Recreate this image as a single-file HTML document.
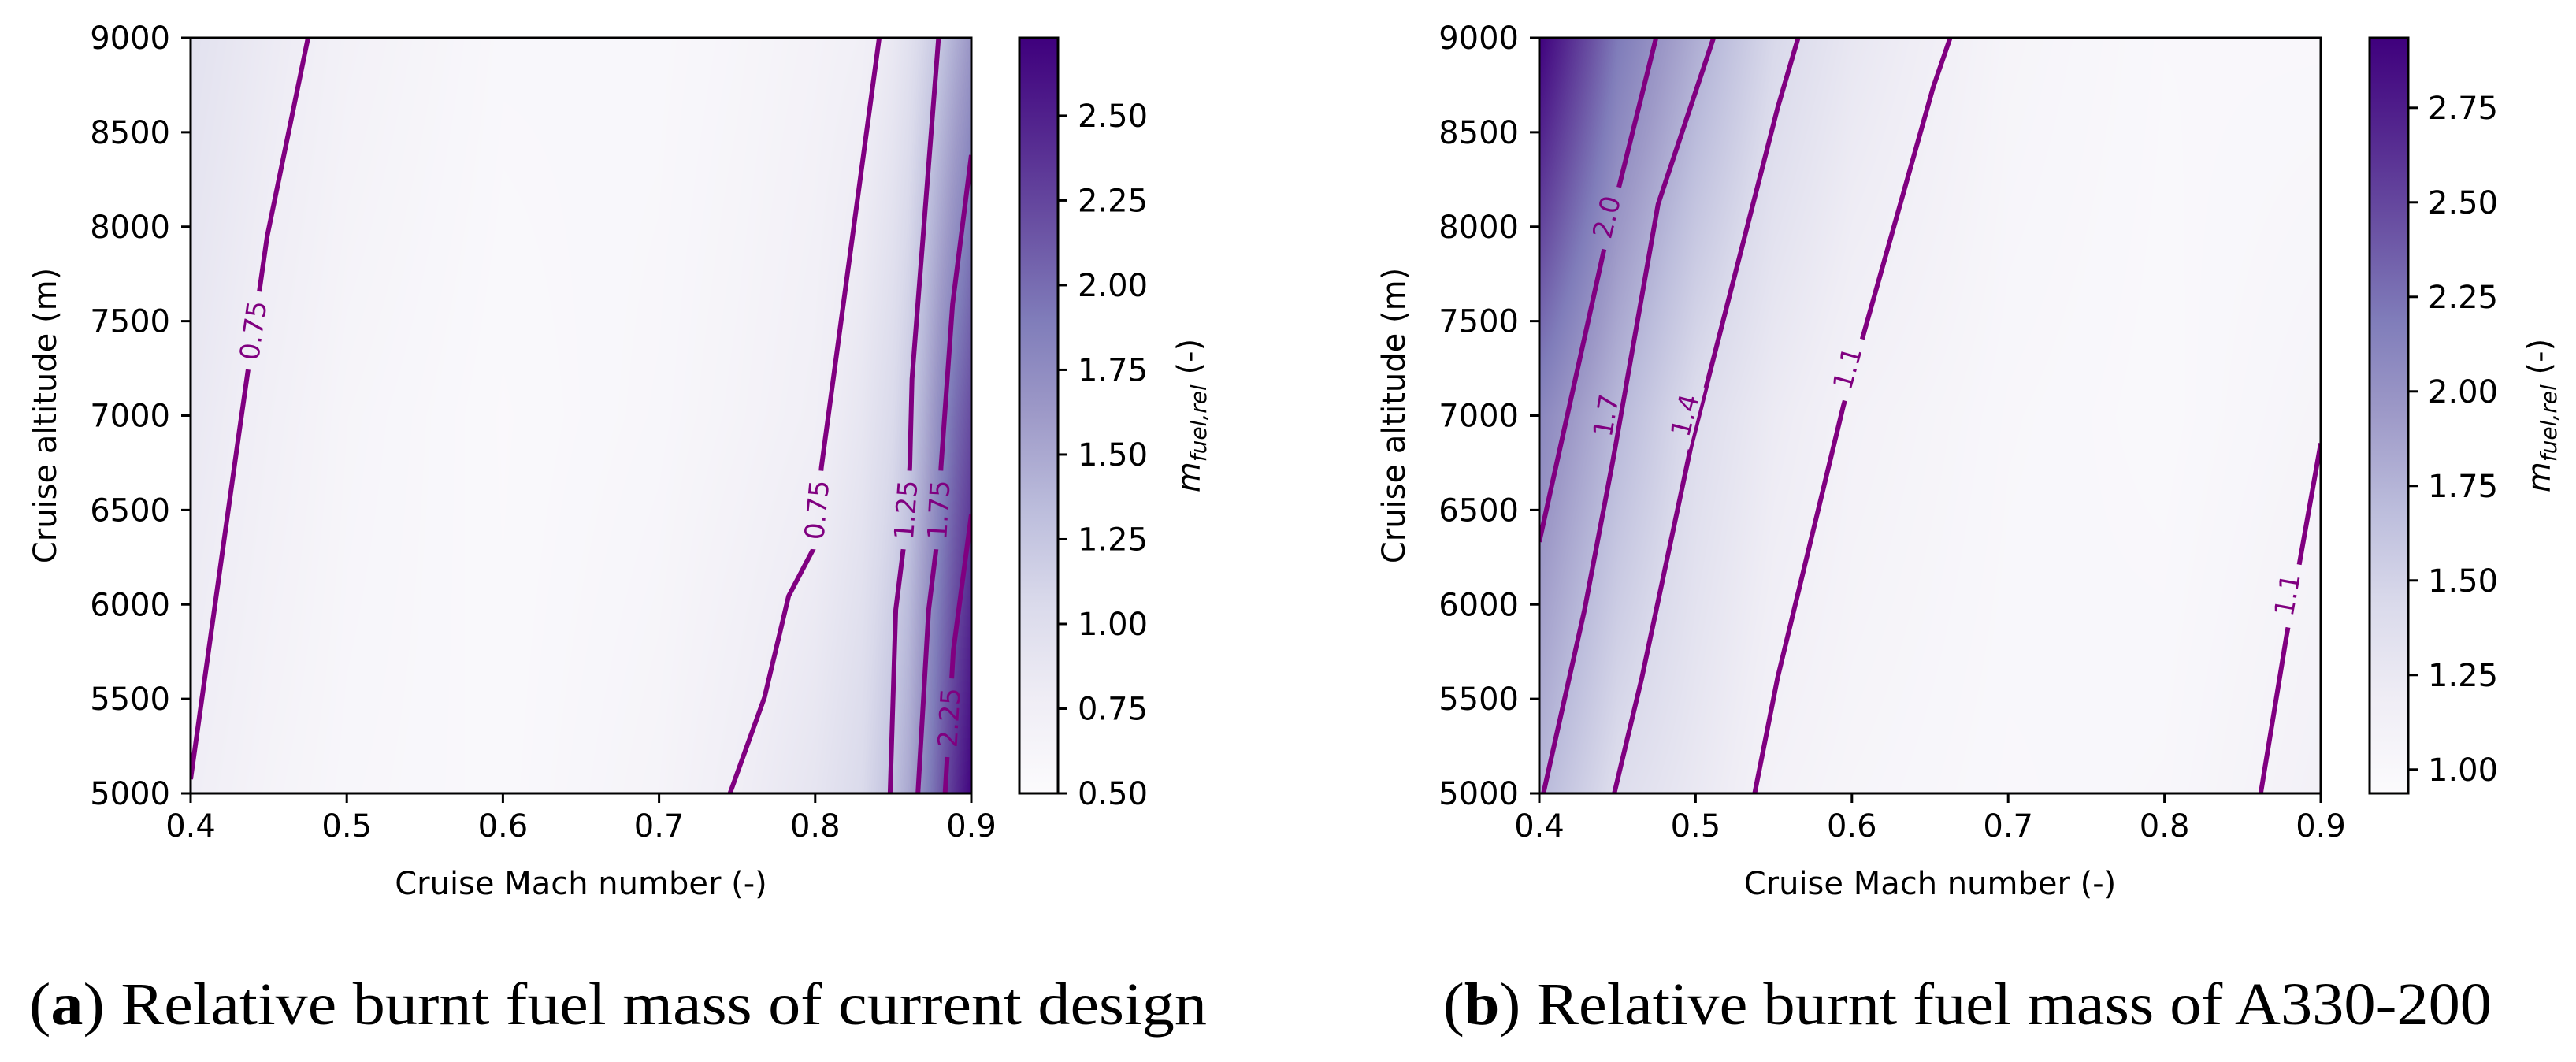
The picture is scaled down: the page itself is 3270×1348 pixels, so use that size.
<!DOCTYPE html>
<html><head><meta charset="utf-8">
<style>
html,body{margin:0;padding:0;background:#fff;}
#root{position:relative;width:3270px;height:1348px;overflow:hidden;background:#fff;}
canvas{position:absolute;}
svg{position:absolute;left:0;top:0;}
</style></head>
<body>
<div id="root">
<canvas id="hmA" width="991" height="959" style="left:242px;top:48px"></canvas>
<canvas id="hmB" width="992" height="959" style="left:1954px;top:48px"></canvas>
<svg id="svg" width="3270" height="1348" xmlns="http://www.w3.org/2000/svg"></svg>
</div>
<script>
// ---------- DATA: panel (a) current design ----------
const machA = [0.4,0.45,0.5,0.6,0.7,0.75,0.8,0.83,0.85,0.86,0.87,0.88,0.89,0.9];
const altA = [5000,7000,9000];
const fieldA_5000 = [0.76,0.66,0.6,0.56,0.65,0.76,0.9,1.05,1.3,1.5,1.8,2.1,2.4,2.7];
const fieldA_7000 = [0.85,0.73,0.63,0.55,0.6,0.66,0.74,0.88,1.05,1.2,1.45,1.75,2.0,2.2];
const fieldA_9000 = [0.95,0.82,0.7,0.58,0.58,0.62,0.68,0.73,0.85,0.95,1.1,1.25,1.45,1.65];
const contourA_075a = [[0.4,5075],[0.431,6907],[0.449,7948],[0.4752,9000]];
const contourA_075b = [[0.7454,5000],[0.7675,5507],[0.783,6045],[0.799,6296],[0.804,6727],[0.841,9000]];
const contourA_125 = [[0.848,5000],[0.8516,5973],[0.857,6332],[0.8606,6727],[0.862,7194],[0.879,9000]];
const contourA_175 = [[0.8658,5000],[0.8727,5973],[0.878,6332],[0.8806,6727],[0.888,7589],[0.9,8379]];
const contourA_225 = [[0.8832,5000],[0.8885,5757],[0.9,6476]];
const labelsA = [["0.75",0.4405,7450],["0.75",0.8015,6500],["1.25",0.8585,6500],["1.75",0.8795,6500],["2.25",0.8862,5400]];
const cbTicksA = [0.5,0.75,1.0,1.25,1.5,1.75,2.0,2.25,2.5];
const cbRangeA = [0.5,2.73];
// ---------- DATA: panel (b) A330-200 ----------
const machB = [0.4,0.45,0.5,0.55,0.6,0.7,0.8,0.9];
const altB = [5000,7000,9000];
const fieldB_5000 = [1.72,1.39,1.25,1.1,1.05,1.0,1.02,1.12];
const fieldB_7000 = [2.1,1.72,1.4,1.22,1.11,1.02,0.99,1.06];
const fieldB_9000 = [2.93,2.2,1.8,1.45,1.27,1.06,1.0,1.0];
const contourB_20 = [[0.4,6332],[0.4447,8002],[0.4747,9000]];
const contourB_17 = [[0.4026,5000],[0.429,5973],[0.447,6757],[0.476,8119],[0.5115,9000]];
const contourB_14 = [[0.448,5000],[0.4657,5614],[0.497,6835],[0.5525,8630],[0.5656,9000]];
const contourB_11a = [[0.5378,5000],[0.5525,5614],[0.5945,7050],[0.652,8738],[0.6629,9000]];
const contourB_11b = [[0.8616,5000],[0.878,5830],[0.9,6853]];
const labelsB = [["2.0",0.4435,8050],["1.7",0.443,7000],["1.4",0.4935,7000],["1.1",0.5975,7250],["1.1",0.879,6050]];
const cbTicksB = [1.0,1.25,1.5,1.75,2.0,2.25,2.5,2.75];
const cbRangeB = [0.937,2.935];
const xTicks = [0.4,0.5,0.6,0.7,0.8,0.9];
const yTicks = [5000,5500,6000,6500,7000,7500,8000,8500,9000];

// ---------- rendering ----------
const NS='http://www.w3.org/2000/svg';
const svg=document.getElementById('svg');
const PURPLES=[[252,251,253],[239,237,245],[218,218,235],[188,189,220],[158,154,200],[128,125,186],[106,81,163],[84,39,143],[63,0,125]];
function cmap(t){t=Math.max(0,Math.min(1,t));const s=t*8;const i=Math.min(7,Math.floor(s));const f=s-i;const a=PURPLES[i],b=PURPLES[i+1];return [a[0]+(b[0]-a[0])*f,a[1]+(b[1]-a[1])*f,a[2]+(b[2]-a[2])*f];}
function mk(tag,attrs,parent){const e=document.createElementNS(NS,tag);for(const k in attrs)e.setAttribute(k,attrs[k]);(parent||svg).appendChild(e);return e;}
function interp1(arr,v){let i=0;while(i<arr.length-2&&v>arr[i+1])i++;const f=(v-arr[i])/(arr[i+1]-arr[i]);return [i,Math.max(0,Math.min(1,f))];}

function drawPanel(o){
  const X=m=>o.x0+(m-0.4)/0.5*o.w;
  const Y=a=>o.y0+o.h-(a-5000)/4000*o.h;
  const cv=document.getElementById(o.canvas);const ctx=cv.getContext('2d');
  const img=ctx.createImageData(cv.width,cv.height);
  const rows=o.rows;
  for(let py=0;py<cv.height;py++){
    const alt=9000-(py+0.5)/cv.height*4000;
    const [ai,af]=interp1(o.alt,alt);
    for(let px=0;px<cv.width;px++){
      const m=0.4+(px+0.5)/cv.width*0.5;
      const [mi,mf]=interp1(o.mach,m);
      const v0=rows[ai][mi]*(1-mf)+rows[ai][mi+1]*mf;
      const v1=rows[ai+1][mi]*(1-mf)+rows[ai+1][mi+1]*mf;
      const v=v0*(1-af)+v1*af;
      const c=cmap((v-o.cb[0])/(o.cb[1]-o.cb[0]));
      const k=(py*cv.width+px)*4;img.data[k]=c[0];img.data[k+1]=c[1];img.data[k+2]=c[2];img.data[k+3]=255;
    }
  }
  ctx.putImageData(img,0,0);
  const g=mk('g',{});
  
  
  const mid=o.name+'-mask';
  const mask=mk('mask',{id:mid,maskUnits:'userSpaceOnUse',x:0,y:0,width:3270,height:1348},g);
  mk('rect',{x:0,y:0,width:3270,height:1348,fill:'#fff'},mask);
  const clipId=o.name+'-clip';
  const cp=mk('clipPath',{id:clipId},g);mk('rect',{x:o.x0,y:o.y0,width:o.w,height:o.h},cp);
  const lg=mk('g',{mask:'url(#'+mid+')','clip-path':'url(#'+clipId+')'},g);
  o.contours.forEach((c,ci)=>{
    const p=mk('polyline',{points:c.map(q=>X(q[0]).toFixed(1)+','+Y(q[1]).toFixed(1)).join(' '),fill:'none',stroke:'#800080','stroke-width':6,'stroke-linejoin':'round'},lg);
    
    
  });
  o.labels.forEach(l=>{
    const lx=X(l[1]),ly=Y(l[2]);
    let best=null,bd=1e9;
    o.contours.forEach(c=>{for(let i=0;i<c.length-1;i++){const ax=X(c[i][0]),ay=Y(c[i][1]),bx=X(c[i+1][0]),by=Y(c[i+1][1]);const t=Math.max(0,Math.min(1,((lx-ax)*(bx-ax)+(ly-ay)*(by-ay))/((bx-ax)**2+(by-ay)**2)));const dd=Math.hypot(ax+t*(bx-ax)-lx,ay+t*(by-ay)-ly);if(dd<bd){bd=dd;best=[bx-ax,by-ay];}}});
    let ang=Math.atan2(best[1],best[0])*180/Math.PI;if(ang>90)ang-=180;if(ang<-90)ang+=180;
    const len=l[0].length*19+24;
    mk('rect',{x:-len/2,y:-15,width:len,height:30,fill:'#000',transform:`translate(${lx},${ly}) rotate(${ang})`},mask);
    const t=mk('text',{x:0,y:0,'text-anchor':'middle','dominant-baseline':'central','font-family':'DejaVu Sans, Liberation Sans, sans-serif','font-size':34,fill:'#800080',transform:`translate(${lx},${ly}) rotate(${ang})`},g);
    t.textContent=l[0];
    
    
  });
  mk('rect',{x:o.x0,y:o.y0,width:o.w,height:o.h,fill:'none',stroke:'#000','stroke-width':3},g);
  const F='DejaVu Sans, Liberation Sans, sans-serif';
  xTicks.forEach(v=>{const x=X(v);mk('line',{x1:x,y1:o.y0+o.h,x2:x,y2:o.y0+o.h+12,stroke:'#000','stroke-width':3},g);
    const t=mk('text',{x:x,y:1062,'text-anchor':'middle','font-family':F,'font-size':40},g);t.textContent=v.toFixed(1);
    
    });
  yTicks.forEach(v=>{const y=Y(v);mk('line',{x1:o.x0-12,y1:y,x2:o.x0,y2:y,stroke:'#000','stroke-width':3},g);
    const t=mk('text',{x:o.x0-26,y:y+14,'text-anchor':'end','font-family':F,'font-size':40},g);t.textContent=v;
    
    });
  const xl=mk('text',{x:o.x0+o.w/2,y:1135,'text-anchor':'middle','font-family':F,'font-size':40},g);xl.textContent='Cruise Mach number (-)';
  
  
  const yl=mk('text',{x:0,y:0,'text-anchor':'middle','font-family':F,'font-size':40,transform:`translate(${o.x0-171},${o.y0+o.h/2}) rotate(-90)`},g);yl.textContent='Cruise altitude (m)';
  
  
  const gid=o.name+'-cbgrad';
  const gr=mk('linearGradient',{id:gid,x1:0,y1:1,x2:0,y2:0},g);
  for(let i=0;i<=8;i++){const c=PURPLES[i];mk('stop',{offset:i/8,'stop-color':`rgb(${c[0]},${c[1]},${c[2]})`},gr);}
  const cb=mk('rect',{x:o.cbx,y:o.y0,width:49,height:o.h,fill:'url(#'+gid+')',stroke:'#000','stroke-width':3},g);
  
  
  o.cbTicks.forEach(v=>{const y=o.y0+o.h-(v-o.cb[0])/(o.cb[1]-o.cb[0])*o.h;
    mk('line',{x1:o.cbx+49,y1:y,x2:o.cbx+61,y2:y,stroke:'#000','stroke-width':3},g);
    const t=mk('text',{x:o.cbx+74,y:y+14,'font-family':F,'font-size':40},g);t.textContent=v.toFixed(2);
    
    });
  const cl=mk('text',{x:0,y:0,'text-anchor':'middle','font-family':F,'font-size':40,'font-style':'italic',transform:`translate(${o.cbx+229},${o.y0+o.h/2}) rotate(-90)`},g);
  cl.innerHTML='m<tspan font-size="28" dy="8">fuel,rel</tspan><tspan dy="-8" font-style="normal"> (-)</tspan>';
  
  
  const cap=mk('text',{x:o.capx,y:1300,'font-family':'Liberation Serif, serif','font-size':76,textLength:o.capw,lengthAdjust:'spacingAndGlyphs'},g);
  cap.innerHTML='(<tspan font-weight="bold">'+o.letter+'</tspan>) '+o.caption;
  
  
}
drawPanel({name:'panel-a',canvas:'hmA',x0:242,y0:48,w:991,h:959,mach:machA,alt:altA,rows:[fieldA_5000,fieldA_7000,fieldA_9000],cb:cbRangeA,cbTicks:cbTicksA,
  contours:[contourA_075a,contourA_075b,contourA_125,contourA_175,contourA_225],labels:labelsA,cbx:1294,capx:37,capw:1495,letter:'a',caption:'Relative burnt fuel mass of current design'});
drawPanel({name:'panel-b',canvas:'hmB',x0:1954,y0:48,w:992,h:959,mach:machB,alt:altB,rows:[fieldB_5000,fieldB_7000,fieldB_9000],cb:cbRangeB,cbTicks:cbTicksB,
  contours:[contourB_20,contourB_17,contourB_14,contourB_11a,contourB_11b],labels:labelsB,cbx:3008,capx:1832,capw:1331,letter:'b',caption:'Relative burnt fuel mass of A330-200'});
</script>
</body></html>
